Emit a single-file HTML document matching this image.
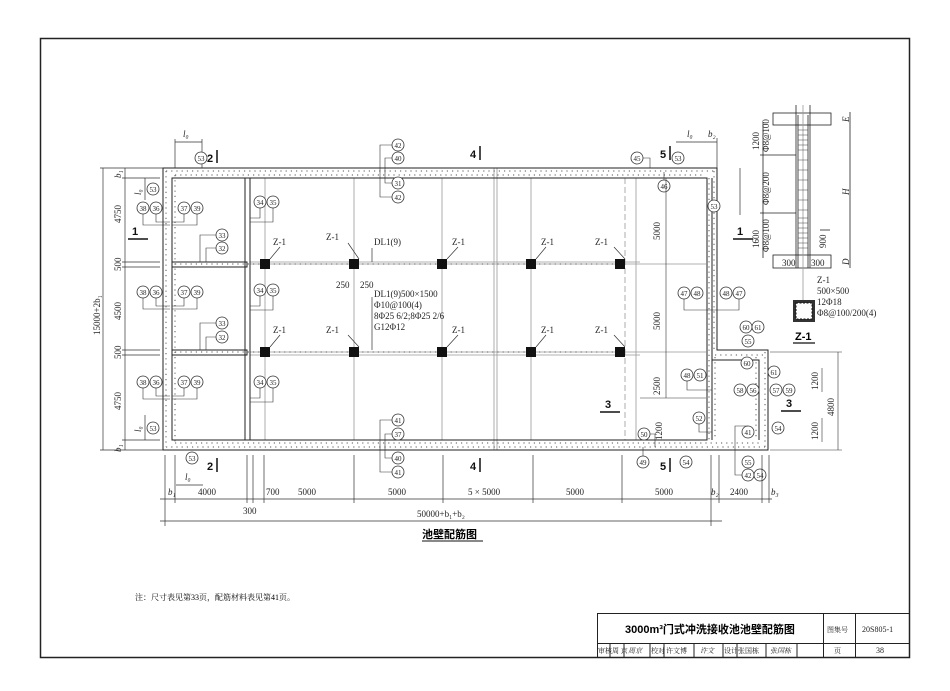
<!DOCTYPE html>
<html><head><meta charset="utf-8"><style>
body{margin:0;background:#fff;}
svg{display:block;font-family:"Liberation Serif","Noto Serif CJK SC",serif;}
.t{font-size:9px;fill:#222;}
.c circle{fill:#fff;stroke:#333;stroke-width:.8}
.c text{font-size:7px;text-anchor:middle;fill:#222}
</style></head><body>
<svg width="950" height="691" viewBox="0 0 950 691" xmlns="http://www.w3.org/2000/svg">
<rect x="0" y="0" width="950" height="691" fill="#fff"/>
<rect x="40.5" y="38.5" width="869" height="619" fill="none" stroke="#222" stroke-width="1.5"/>

<g stroke="#999" stroke-width=".8">
<line x1="265" y1="178" x2="265" y2="440"/><line x1="354" y1="178" x2="354" y2="440"/>
<line x1="442" y1="178" x2="442" y2="440"/><line x1="531" y1="178" x2="531" y2="440"/>
<line x1="494" y1="168" x2="494" y2="450"/><line x1="497" y1="168" x2="497" y2="450"/>
<line x1="636" y1="178" x2="636" y2="440"/>
<line x1="625" y1="178" x2="625" y2="440" stroke-dasharray="6,3"/>
<line x1="250" y1="264" x2="706" y2="264"/><line x1="250" y1="352" x2="706" y2="352"/>
<line x1="250" y1="262" x2="640" y2="262"/><line x1="250" y1="355" x2="640" y2="355"/>
</g>

<g fill="none" stroke="#222" stroke-width="1">
<path d="M163 168 H717 V350 H768 V450 H163 Z"/>
<path d="M172 178 H707 V440 H172 Z"/>
<rect x="172" y="262" width="75" height="5"/>
<rect x="172" y="350" width="75" height="5"/>
<rect x="245" y="178" width="5" height="262"/>
<path d="M712 178 V440 M712 360 H759 V440"/>
</g>
<g fill="none" stroke="#555" stroke-width="1" stroke-dasharray="1.2,4">
<path d="M166 171 H714 M166 447 H765 M166 171 V447 M175 175 H704 M175 443 H760 M175 175 V443 M714 171 V352 M709 178 V440 M765 352 V447 M715 355 H765 M715 357 V440 M756 357 V440"/>
<path d="M175 264 H620 M175 352 H620"/>
</g>

<g fill="#111">
<rect x="260" y="259" width="10" height="10"/><rect x="349" y="259" width="10" height="10"/><rect x="437" y="259" width="10" height="10"/><rect x="526" y="259" width="10" height="10"/><rect x="615" y="259" width="10" height="10"/>
<rect x="260" y="347" width="10" height="10"/><rect x="349" y="347" width="10" height="10"/><rect x="437" y="347" width="10" height="10"/><rect x="526" y="347" width="10" height="10"/><rect x="615" y="347" width="10" height="10"/>
</g>
<g class="t" font-size="9">
<text x="273" y="245">Z-1</text><text x="326" y="240">Z-1</text><text x="452" y="245">Z-1</text><text x="541" y="245">Z-1</text><text x="595" y="245">Z-1</text>
<text x="273" y="333">Z-1</text><text x="326" y="333">Z-1</text><text x="452" y="333">Z-1</text><text x="541" y="333">Z-1</text><text x="595" y="333">Z-1</text>
<text x="374" y="245">DL1(9)</text>
<text x="374" y="297">DL1(9)500×1500</text>
<text x="374" y="308">Φ10@100(4)</text>
<text x="374" y="319">8Φ25 6/2;8Φ25 2/6</text>
<text x="374" y="330">G12Φ12</text>
<text x="336" y="288">250</text><text x="360" y="288">250</text>
</g>
<g stroke="#333" stroke-width=".7" fill="none">
<path d="M270 259 L280 247 M359 259 L348 243 M447 259 L458 247 M536 259 L546 247 M625 259 L614 247"/>
<path d="M270 347 L280 335 M359 347 L348 335 M447 347 L458 335 M536 347 L546 335 M625 347 L614 335"/>
<path d="M372 248 V262 M372 297 V350"/>
</g>

<g stroke="#333" stroke-width=".7">
<line x1="103" y1="168" x2="103" y2="450"/><line x1="125" y1="168" x2="125" y2="450"/>
<line x1="100" y1="168" x2="163" y2="168"/><line x1="100" y1="450" x2="163" y2="450"/>
<line x1="122" y1="178" x2="160" y2="178"/><line x1="122" y1="262" x2="160" y2="262"/><line x1="122" y1="267" x2="160" y2="267"/>
<line x1="122" y1="350" x2="160" y2="350"/><line x1="122" y1="355" x2="160" y2="355"/><line x1="122" y1="440" x2="160" y2="440"/>
<line x1="145" y1="178" x2="145" y2="200"/><line x1="145" y1="415" x2="145" y2="440"/>
</g>
<g class="t">
<text transform="translate(121,223) rotate(-90)">4750</text>
<text transform="translate(121,271) rotate(-90)">500</text>
<text transform="translate(121,320) rotate(-90)">4500</text>
<text transform="translate(121,359) rotate(-90)">500</text>
<text transform="translate(121,410) rotate(-90)">4750</text>
<text transform="translate(100,335) rotate(-90)">15000+2b₁</text>
<text transform="translate(121,178) rotate(-90)" font-style="italic">b₁</text>
<text transform="translate(121,452) rotate(-90)" font-style="italic">b₁</text>
<text transform="translate(141,195) rotate(-90)" font-style="italic">l₀</text>
<text transform="translate(141,432) rotate(-90)" font-style="italic">l₀</text>
<text x="183" y="137" font-style="italic">l₀</text><text x="185" y="480" font-style="italic">l₀</text>
<text x="687" y="137" font-style="italic">l₀</text><text x="708" y="137" font-style="italic">b₂</text>
</g>
<g stroke="#333" stroke-width=".7"><line x1="175" y1="142" x2="202" y2="142"/><line x1="175" y1="139" x2="175" y2="168"/><line x1="202" y1="139" x2="202" y2="168"/>
<line x1="176" y1="485" x2="203" y2="485"/><line x1="676" y1="142" x2="717" y2="142"/><line x1="717" y1="138" x2="717" y2="168"/>
<line x1="740" y1="168" x2="740" y2="215"/></g>

<g font-family="Liberation Sans,sans-serif" font-weight="bold" font-size="11" fill="#111">
<text x="207" y="162">2</text><text x="207" y="470">2</text><text x="470" y="158">4</text><text x="470" y="470">4</text>
<text x="660" y="158">5</text><text x="660" y="470">5</text>
<text x="132" y="235">1</text><text x="737" y="235">1</text><text x="605" y="408">3</text><text x="786" y="407">3</text>
</g>
<g stroke="#111" stroke-width="1.5"><line x1="217" y1="150" x2="217" y2="163"/><line x1="217" y1="458" x2="217" y2="472"/>
<line x1="480" y1="146" x2="480" y2="160"/><line x1="480" y1="458" x2="480" y2="472"/><line x1="670" y1="146" x2="670" y2="160"/><line x1="670" y1="458" x2="670" y2="472"/>
<line x1="128" y1="239" x2="148" y2="239"/><line x1="733" y1="239" x2="753" y2="239"/><line x1="600" y1="412" x2="620" y2="412"/><line x1="781" y1="411" x2="801" y2="411"/></g>

<g class="c">
<circle cx="201" cy="158" r="6"/><text x="201" y="161">53</text>
<circle cx="398" cy="145" r="6"/><text x="398" y="148">42</text>
<circle cx="398" cy="158" r="6"/><text x="398" y="161">40</text>
<circle cx="398" cy="183" r="6"/><text x="398" y="186">31</text>
<circle cx="398" cy="197" r="6"/><text x="398" y="200">42</text>
<circle cx="153" cy="189" r="6"/><text x="153" y="192">53</text>
<circle cx="143" cy="208" r="6"/><text x="143" y="211">38</text><circle cx="156" cy="208" r="6"/><text x="156" y="211">36</text>
<circle cx="184" cy="208" r="6"/><text x="184" y="211">37</text><circle cx="197" cy="208" r="6"/><text x="197" y="211">39</text>
<circle cx="260" cy="202" r="6"/><text x="260" y="205">34</text><circle cx="273" cy="202" r="6"/><text x="273" y="205">35</text>
<circle cx="222" cy="235" r="6"/><text x="222" y="238">33</text><circle cx="222" cy="248" r="6"/><text x="222" y="251">32</text>
<circle cx="143" cy="292" r="6"/><text x="143" y="295">38</text><circle cx="156" cy="292" r="6"/><text x="156" y="295">36</text>
<circle cx="184" cy="292" r="6"/><text x="184" y="295">37</text><circle cx="197" cy="292" r="6"/><text x="197" y="295">39</text>
<circle cx="260" cy="290" r="6"/><text x="260" y="293">34</text><circle cx="273" cy="290" r="6"/><text x="273" y="293">35</text>
<circle cx="222" cy="323" r="6"/><text x="222" y="326">33</text><circle cx="222" cy="337" r="6"/><text x="222" y="340">32</text>
<circle cx="143" cy="382" r="6"/><text x="143" y="385">38</text><circle cx="156" cy="382" r="6"/><text x="156" y="385">36</text>
<circle cx="184" cy="382" r="6"/><text x="184" y="385">37</text><circle cx="197" cy="382" r="6"/><text x="197" y="385">39</text>
<circle cx="260" cy="382" r="6"/><text x="260" y="385">34</text><circle cx="273" cy="382" r="6"/><text x="273" y="385">35</text>
<circle cx="153" cy="428" r="6"/><text x="153" y="431">53</text><circle cx="192" cy="458" r="6"/><text x="192" y="461">53</text>
<circle cx="398" cy="420" r="6"/><text x="398" y="423">41</text><circle cx="398" cy="434" r="6"/><text x="398" y="437">37</text>
<circle cx="398" cy="458" r="6"/><text x="398" y="461">40</text><circle cx="398" cy="472" r="6"/><text x="398" y="475">41</text>
<circle cx="637" cy="158" r="6"/><text x="637" y="161">45</text><circle cx="678" cy="158" r="6"/><text x="678" y="161">53</text>
<circle cx="664" cy="186" r="6"/><text x="664" y="189">46</text><circle cx="714" cy="206" r="6"/><text x="714" y="209">53</text>
<circle cx="684" cy="293" r="6"/><text x="684" y="296">47</text><circle cx="697" cy="293" r="6"/><text x="697" y="296">48</text>
<circle cx="726" cy="293" r="6"/><text x="726" y="296">48</text><circle cx="739" cy="293" r="6"/><text x="739" y="296">47</text>
<circle cx="746" cy="327" r="6"/><text x="746" y="330">60</text><circle cx="758" cy="327" r="6"/><text x="758" y="330">61</text>
<circle cx="748" cy="341" r="6"/><text x="748" y="344">55</text><circle cx="747" cy="363" r="6"/><text x="747" y="366">60</text>
<circle cx="687" cy="375" r="6"/><text x="687" y="378">48</text><circle cx="700" cy="375" r="6"/><text x="700" y="378">51</text>
<circle cx="740" cy="390" r="6"/><text x="740" y="393">58</text><circle cx="753" cy="390" r="6"/><text x="753" y="393">56</text>
<circle cx="776" cy="390" r="6"/><text x="776" y="393">57</text><circle cx="789" cy="390" r="6"/><text x="789" y="393">59</text>
<circle cx="774" cy="372" r="6"/><text x="774" y="375">61</text><circle cx="699" cy="418" r="6"/><text x="699" y="421">52</text>
<circle cx="644" cy="434" r="6"/><text x="644" y="437">50</text><circle cx="643" cy="462" r="6"/><text x="643" y="465">49</text>
<circle cx="686" cy="462" r="6"/><text x="686" y="465">54</text><circle cx="748" cy="432" r="6"/><text x="748" y="435">41</text>
<circle cx="778" cy="428" r="6"/><text x="778" y="431">54</text><circle cx="748" cy="462" r="6"/><text x="748" y="465">55</text>
<circle cx="748" cy="475" r="6"/><text x="748" y="478">42</text><circle cx="760" cy="475" r="6"/><text x="760" y="478">54</text>
</g>
<g stroke="#333" stroke-width=".6" fill="none">
<path d="M143 214 V225 H170 M156 214 V222 H170 M184 214 V222 H172 M197 214 V225 H172"/>
<path d="M143 298 V309 H170 M156 298 V306 H170 M184 298 V306 H172 M197 298 V309 H172"/>
<path d="M143 388 V399 H170 M156 388 V396 H170 M184 388 V396 H172 M197 388 V399 H172"/>
<path d="M260 208 V218 H250 M273 208 V222 H250 M260 296 V306 H250 M273 296 V310 H250 M260 388 V398 H250 M273 388 V402 H250"/>
<path d="M216 235 H200 V262 M216 248 H206 V262 M216 323 H200 V350 M216 337 H206 V350"/>
<path d="M392 145 H380 V197 H392 M392 158 H385 V183 H392 M392 420 H380 V472 H392 M392 434 H385 V458 H392"/>
<path d="M643 158 H650 V168 M664 180 V172 M684 299 V310 H712 M739 299 V310 H712 M687 381 V390 H712 M699 424 V432 H712 M650 434 H655 V447 M643 456 V447 M748 426 H735 V447 M742 475 H735 V447"/>
</g>

<g stroke="#222" stroke-width=".8" fill="none">
<rect x="773" y="113" width="58" height="12"/>
<line x1="796" y1="105" x2="796" y2="268"/><line x1="810" y1="105" x2="810" y2="268"/>
<path d="M798 115 V268 M808 115 V268"/>
<rect x="773" y="255" width="58" height="13"/>
<line x1="803" y1="105" x2="803" y2="300" stroke="#999"/>
<line x1="763" y1="122" x2="763" y2="258"/><line x1="850" y1="112" x2="850" y2="268"/>
<line x1="760" y1="155" x2="796" y2="155"/><line x1="760" y1="213" x2="796" y2="213"/><line x1="820" y1="230" x2="830" y2="230"/>
</g>
<g stroke="#444" stroke-width=".6"><path d="M798 130 H808 M798 135 H808 M798 140 H808 M798 145 H808 M798 150 H808 M798 160 H808 M798 170 H808 M798 180 H808 M798 190 H808 M798 200 H808 M798 210 H808 M798 218 H808 M798 223 H808 M798 228 H808 M798 233 H808 M798 238 H808 M798 243 H808 M798 248 H808"/></g>
<g class="t" font-size="8">
<text transform="translate(759,150) rotate(-90)">1200</text><text transform="translate(769,152) rotate(-90)">Φ8@100</text>
<text transform="translate(769,205) rotate(-90)">Φ8@200</text>
<text transform="translate(759,248) rotate(-90)">1600</text><text transform="translate(769,252) rotate(-90)">Φ8@100</text>
<text transform="translate(826,248) rotate(-90)">900</text>
<text transform="translate(849,122) rotate(-90)" font-style="italic">E</text>
<text transform="translate(849,195) rotate(-90)" font-style="italic">H</text>
<text transform="translate(849,265) rotate(-90)" font-style="italic">D</text>
<text x="782" y="266">300</text><text x="811" y="266">300</text>
<text x="817" y="283">Z-1</text><text x="817" y="294">500×500</text><text x="817" y="305">12Φ18</text><text x="817" y="316">Φ8@100/200(4)</text>
</g>
<rect x="793" y="300" width="22" height="22" fill="#333"/><rect x="796" y="303" width="16" height="16" fill="#fff" stroke="#111" stroke-dasharray="2,1.5"/>
<text x="795" y="340" font-family="Liberation Sans,sans-serif" font-weight="bold" font-size="11">Z-1</text>
<line x1="793" y1="343" x2="815" y2="343" stroke="#111" stroke-width="1.2"/>

<g class="t">
<text transform="translate(660,240) rotate(-90)">5000</text>
<text transform="translate(660,330) rotate(-90)">5000</text>
<text transform="translate(660,395) rotate(-90)">2500</text>
<text transform="translate(662,440) rotate(-90)">1200</text>
<text transform="translate(818,390) rotate(-90)">1200</text>
<text transform="translate(834,416) rotate(-90)">4800</text>
<text transform="translate(818,440) rotate(-90)">1200</text>
</g>
<g stroke="#333" stroke-width=".6"><line x1="666" y1="178" x2="666" y2="398"/><line x1="838" y1="352" x2="838" y2="450"/><line x1="822" y1="368" x2="822" y2="392"/><line x1="822" y1="418" x2="822" y2="442"/><line x1="640" y1="398" x2="706" y2="398"/><line x1="770" y1="352" x2="842" y2="352"/><line x1="770" y1="450" x2="842" y2="450"/></g>

<g stroke="#333" stroke-width=".7">
<line x1="160" y1="499" x2="772" y2="499"/><line x1="160" y1="521" x2="722" y2="521"/>
<path d="M165 455 V526 M175 455 V503 M247 455 V503 M253 455 V503 M264 455 V503 M354 455 V503 M443 455 V503 M533 455 V503 M622 455 V503 M711 455 V526 M719 455 V503 M762 455 V503 M769 455 V503"/>
</g>
<g class="t">
<text x="168" y="495" font-style="italic">b₁</text><text x="198" y="495">4000</text><text x="266" y="495">700</text><text x="298" y="495">5000</text>
<text x="388" y="495">5000</text><text x="468" y="495">5 × 5000</text><text x="566" y="495">5000</text><text x="655" y="495">5000</text>
<text x="711" y="495" font-style="italic">b₂</text><text x="730" y="495">2400</text><text x="771" y="495" font-style="italic">b₃</text>
<text x="243" y="514">300</text><text x="417" y="517">50000+b₁+b₂</text>
</g>
<text x="422" y="538" font-family="Liberation Sans,'Noto Sans CJK SC',sans-serif" font-weight="bold" font-size="11">池壁配筋图</text>
<line x1="422" y1="541" x2="483" y2="541" stroke="#111" stroke-width="1"/>

<text x="135" y="600" font-family="Liberation Serif,'Noto Serif CJK SC',serif" font-size="8">注：尺寸表见第33页，配筋材料表见第41页。</text>

<g stroke="#222" stroke-width="1" fill="none">
<rect x="597.5" y="613.5" width="312" height="44"/>
<line x1="597" y1="643.5" x2="910" y2="643.5"/>
<line x1="823.5" y1="613" x2="823.5" y2="657"/><line x1="855.5" y1="613" x2="855.5" y2="657"/>
<path d="M610 643 V657 M624 643 V657 M650 643 V657 M664 643 V657 M694 643 V657 M723 643 V657 M737 643 V657 M766 643 V657 M797 643 V657"/>
</g>
<text x="625" y="633" font-family="Liberation Sans,'Noto Sans CJK SC',sans-serif" font-weight="bold" font-size="11">3000m³门式冲洗接收池池壁配筋图</text>
<g font-family="Liberation Serif,'Noto Serif CJK SC',serif" font-size="7" fill="#222">
<text x="827" y="632">图集号</text><text x="862" y="632" font-size="8">20S805-1</text>
<text x="598" y="653">审核</text><text x="612" y="653">周 京</text><text x="628" y="653" font-style="italic">周京</text>
<text x="651" y="653">校对</text><text x="666" y="653">许文博</text><text x="700" y="653" font-style="italic">许文</text>
<text x="724" y="653">设计</text><text x="738" y="653">张国栋</text><text x="770" y="653" font-style="italic">张国栋</text>
<text x="834" y="653">页</text><text x="876" y="653" font-size="8">38</text>
</g>
</svg>
</body></html>
